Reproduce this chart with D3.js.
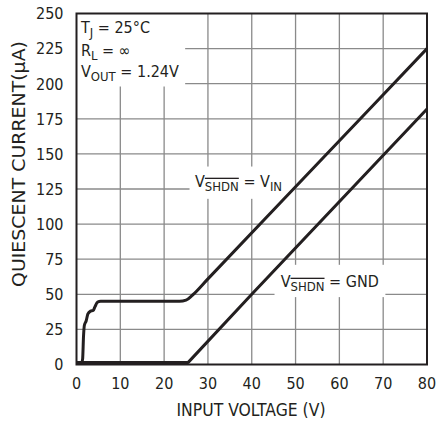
<!DOCTYPE html>
<html>
<head>
<meta charset="utf-8">
<script src="https://cdn.jsdelivr.net/npm/d3@7"></script>
<style>
  body { margin: 0; background: #fff; }
  text { font-family: "Liberation Sans Narrow", "DejaVu Sans Condensed", sans-serif; fill: #231f20; }
</style>
</head>
<body>
<div id="canvas"></div>
<script>
"use strict"

/* data */
let xTicks = [0, 10, 20, 30, 40, 50, 60, 70, 80];
let yTicks = [0, 25, 50, 75, 100, 125, 150, 175, 200, 225, 250];

// V_SHDN = V_IN
let vinVoltage = [0, 1.2, 1.4, 1.6, 1.8, 2.2, 2.6, 3.2, 3.8, 4.2, 4.8, 5.5, 23.5, 25, 26.5, 30, 55, 80];
let vinCurrent = [1.5, 1.5, 4, 20, 28, 31, 36, 38, 38.5, 41, 44.5, 45, 45, 45.8, 49.5, 61, 143, 225];

// V_SHDN = GND
let gndVoltage = [0, 25.5, 40, 80];
let gndCurrent = [1.5, 1.5, 50, 182];

/* canvas */
let svgWidth = 438;
let svgHeight = 421;

let marginLeft = 76.5;
let marginRight = 11;
let marginTop = 13.5;
let marginBottom = 56.5;

let svg = d3.select("#canvas")
  .append("svg")
  .attr("width", svgWidth)
  .attr("height", svgHeight);

let xScale = d3.scaleLinear()
  .domain([0, 80])
  .range([marginLeft, svgWidth - marginRight]);

let yScale = d3.scaleLinear()
  .domain([0, 250])
  .range([svgHeight - marginBottom, marginTop]);

// grid
svg.selectAll(".vgrid")
  .data(xTicks.slice(1, -1))
  .join("line")
  .attr("x1", d => xScale(d))
  .attr("x2", d => xScale(d))
  .attr("y1", yScale(0))
  .attr("y2", yScale(250))
  .attr("stroke", "#8a8a8a")
  .attr("stroke-width", 1.3);

svg.selectAll(".hgrid")
  .data(yTicks.slice(1, -1))
  .join("line")
  .attr("x1", xScale(0))
  .attr("x2", xScale(80))
  .attr("y1", d => yScale(d))
  .attr("y2", d => yScale(d))
  .attr("stroke", "#8a8a8a")
  .attr("stroke-width", 1.3);

// white boxes behind the labels
function whiteBox(x0, x1, y0, y1) {
  svg.append("rect")
    .attr("x", xScale(x0))
    .attr("y", yScale(y1))
    .attr("width", xScale(x1) - xScale(x0))
    .attr("height", yScale(y0) - yScale(y1))
    .attr("fill", "white");
}
whiteBox(0, 24.8, 198, 250);
whiteBox(25.8, 49.3, 118, 141);
whiteBox(45.2, 70.5, 48, 71);

// curves
let smooth = d3.line()
  .x(d => xScale(d[0]))
  .y(d => yScale(d[1]))
  .curve(d3.curveMonotoneX);

let straight = d3.line()
  .x(d => xScale(d[0]))
  .y(d => yScale(d[1]));

svg.append("path")
  .datum(d3.zip(gndVoltage, gndCurrent))
  .attr("d", straight)
  .attr("fill", "none")
  .attr("stroke", "#231f20")
  .attr("stroke-width", 3)
  .attr("stroke-linejoin", "round");

svg.append("path")
  .datum(d3.zip(vinVoltage, vinCurrent))
  .attr("d", smooth)
  .attr("fill", "none")
  .attr("stroke", "#231f20")
  .attr("stroke-width", 3);

// frame
svg.append("rect")
  .attr("x", xScale(0))
  .attr("y", yScale(250))
  .attr("width", xScale(80) - xScale(0))
  .attr("height", yScale(0) - yScale(250))
  .attr("fill", "none")
  .attr("stroke", "#231f20")
  .attr("stroke-width", 2);

// tick labels
svg.selectAll(".xlab")
  .data(xTicks)
  .join("text")
  .attr("x", d => xScale(d))
  .attr("y", 388.5)
  .attr("text-anchor", "middle")
  .style("font-size", "16px")
  .text(d => d);

svg.selectAll(".ylab")
  .data(yTicks)
  .join("text")
  .attr("x", 63.5)
  .attr("y", d => yScale(d) + 5.8)
  .attr("text-anchor", "end")
  .style("font-size", "16px")
  .text(d => d);

// axis titles
svg.append("text")
  .attr("x", 251)
  .attr("y", 415.7)
  .attr("text-anchor", "middle")
  .style("font-size", "17px")
  .attr("textLength", 149)
  .attr("lengthAdjust", "spacingAndGlyphs")
  .text("INPUT VOLTAGE (V)");

svg.append("text")
  .attr("transform", "translate(25,287) rotate(-90)")
  .attr("text-anchor", "start")
  .style("font-size", "17px")
  .attr("textLength", 246)
  .attr("lengthAdjust", "spacingAndGlyphs")
  .text("QUIESCENT CURRENT(µA)");

// conditions box
let cond = svg.append("text")
  .attr("x", 81)
  .attr("y", 33.3)
  .style("font-size", "16px");
cond.append("tspan").text("T");
cond.append("tspan").attr("dy", 4).style("font-size", "13px").text("J");
cond.append("tspan").attr("dy", -4).text(" = 25°C");

let rl = svg.append("text")
  .attr("x", 81)
  .attr("y", 56)
  .style("font-size", "16px");
rl.append("tspan").text("R");
rl.append("tspan").attr("dy", 4).style("font-size", "13px").text("L");
rl.append("tspan").attr("dy", -4).text(" = ∞");

let vout = svg.append("text")
  .attr("x", 81)
  .attr("y", 77.3)
  .style("font-size", "16px");
vout.append("tspan").text("V");
vout.append("tspan").attr("dy", 4).style("font-size", "13px").text("OUT");
vout.append("tspan").attr("dy", -4).text(" = 1.24V");

// curve labels
function shdnLabel(x, y, rest, sub) {
  let t = svg.append("text")
    .attr("x", x)
    .attr("y", y)
    .style("font-size", "16px");
  t.append("tspan").text("V");
  t.append("tspan").attr("dy", 4).style("font-size", "13px")
    .style("text-decoration", "overline").text("SHDN");
  t.append("tspan").attr("dy", -4).text(rest);
  if (sub) {
    t.append("tspan").attr("dy", 4).style("font-size", "13px").text(sub);
  }
}
shdnLabel(195, 186.7, " = V", "IN");
shdnLabel(280.7, 286.7, " = GND", null);
</script>
</body>
</html>
